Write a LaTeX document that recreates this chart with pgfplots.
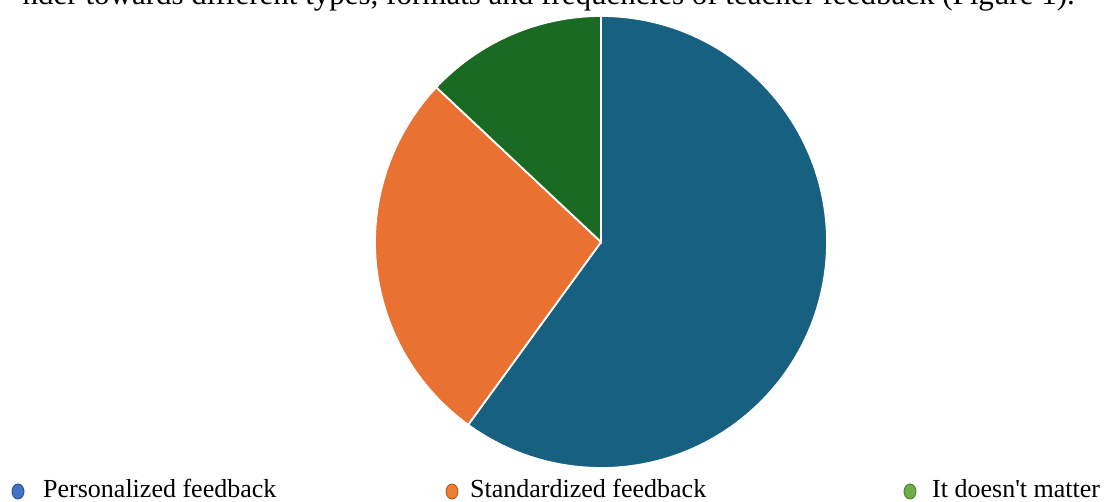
\documentclass[border=0pt]{standalone}
\usepackage{pgfplots}
\pgfplotsset{compat=1.18}
\usepackage{pgfplotstable}
\usepackage{fontspec}
\setmainfont{Liberation Serif}

% slice colours
\definecolor{sliceBlue}{RGB}{23,96,128}
\definecolor{sliceOrange}{RGB}{233,113,50}
\definecolor{sliceGreen}{RGB}{27,106,36}
% legend marker colours
\definecolor{keyBlue}{RGB}{68,114,196}
\definecolor{keyBlueEdge}{RGB}{47,82,143}
\definecolor{keyOrange}{RGB}{237,125,49}
\definecolor{keyOrangeEdge}{RGB}{174,90,33}
\definecolor{keyGreen}{RGB}{112,173,71}
\definecolor{keyGreenEdge}{RGB}{80,126,50}

% shares in percent: personalized, standardized, it doesn't matter
\pgfplotstableread{
share
60
27
13
}\sharetable

\pgfplotstablegetelem{0}{share}\of\sharetable \pgfmathsetmacro\sA{\pgfplotsretval}
\pgfplotstablegetelem{1}{share}\of\sharetable \pgfmathsetmacro\sB{\pgfplotsretval}
\pgfplotstablegetelem{2}{share}\of\sharetable \pgfmathsetmacro\sC{\pgfplotsretval}

% slices run clockwise from 12 o'clock
\def\rad{226}
\pgfmathsetmacro\aStart{90}
\pgfmathsetmacro\aOne{\aStart-3.6*\sA}
\pgfmathsetmacro\aTwo{\aOne-3.6*\sB}
\pgfmathsetmacro\aThree{\aTwo-3.6*\sC}
\pgfmathsetmacro\xZero{\rad*cos(\aStart)}
\pgfmathsetmacro\yZero{\rad*sin(\aStart)}
\pgfmathsetmacro\xOne{\rad*cos(\aOne)}
\pgfmathsetmacro\yOne{\rad*sin(\aOne)}
\pgfmathsetmacro\xTwo{\rad*cos(\aTwo)}
\pgfmathsetmacro\yTwo{\rad*sin(\aTwo)}

\begin{document}
\begin{tikzpicture}[x=1pt,y=1pt]
\useasboundingbox (0,0) rectangle (1106,502);
\clip (0,0) rectangle (1106,502);

% running text line above the figure
\node[anchor=base east, inner sep=0pt, font=\fontsize{31}{36}\selectfont] at (1075,497)
  {nder towards different types, formats and frequencies of teacher feedback (Figure 1).};

\begin{axis}[
  at={(601pt,260pt)}, anchor=center,
  x=1pt, y=1pt,
  xmin=-230, xmax=230, ymin=-230, ymax=230,
  hide axis, clip=false]
  \fill[sliceBlue, draw=white, line width=1.8pt]
    (axis cs:0,0) -- (axis cs:\xZero,\yZero) arc[start angle=\aStart, end angle=\aOne, radius=\rad pt] -- cycle;
  \fill[sliceOrange, draw=white, line width=1.8pt]
    (axis cs:0,0) -- (axis cs:\xOne,\yOne) arc[start angle=\aOne, end angle=\aTwo, radius=\rad pt] -- cycle;
  \fill[sliceGreen, draw=white, line width=1.8pt]
    (axis cs:0,0) -- (axis cs:\xTwo,\yTwo) arc[start angle=\aTwo, end angle=\aThree, radius=\rad pt] -- cycle;
\end{axis}

% legend
\begin{scope}[every node/.style={anchor=base west, inner sep=0pt, font=\fontsize{26}{30}\selectfont}]
  \filldraw[fill=keyBlue, draw=keyBlueEdge, line width=0.9pt] (18,10.5) ellipse [x radius=6, y radius=7.5];
  \node at (43,4) {Personalized feedback};
  \filldraw[fill=keyOrange, draw=keyOrangeEdge, line width=0.9pt] (452,10.5) ellipse [x radius=6, y radius=7.5];
  \node at (470,4) {Standardized feedback};
  \filldraw[fill=keyGreen, draw=keyGreenEdge, line width=0.9pt] (910,10.5) ellipse [x radius=6, y radius=7.5];
  \node at (932,4) {It doesn\textquotesingle t matter};
\end{scope}
\end{tikzpicture}
\end{document}
